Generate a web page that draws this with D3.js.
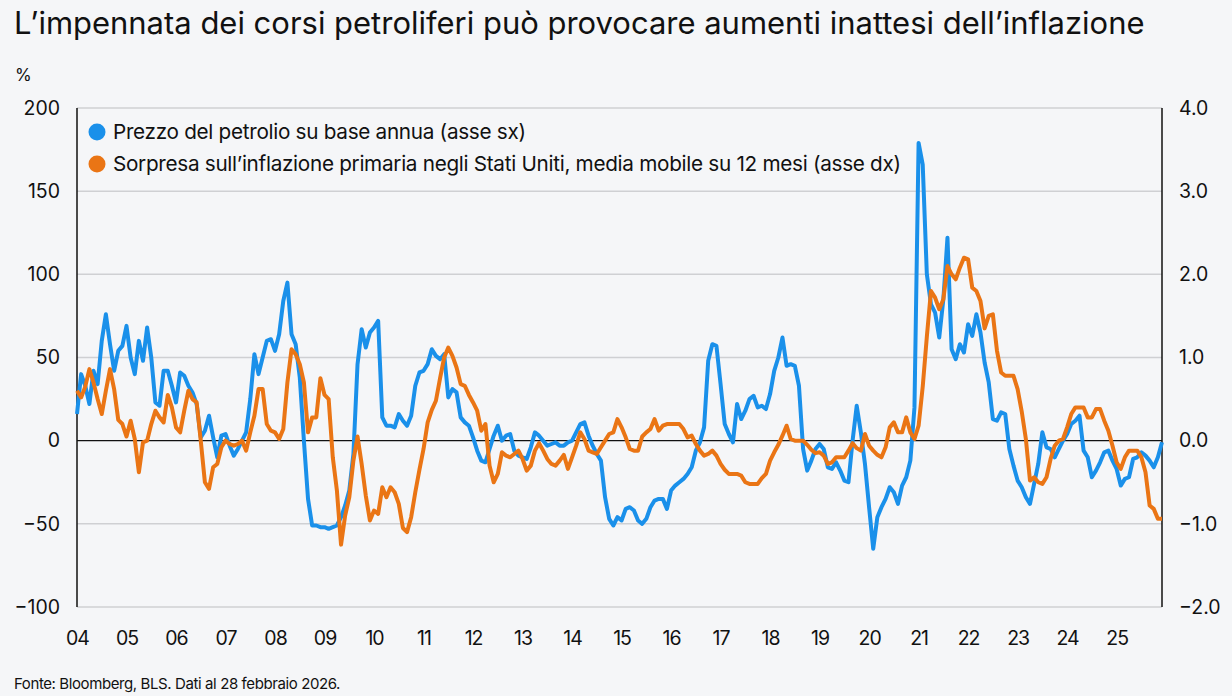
<!DOCTYPE html>
<html>
<head>
<meta charset="utf-8">
<script src="https://cdn.jsdelivr.net/npm/d3@7"></script>
<style>
  html, body { margin: 0; padding: 0; background: #f5f6f8; }
  svg { display: block; }
  text { font-family: Inter, "Noto Sans", sans-serif; fill: #111; }
</style>
</head>
<body>
<svg id="chart" width="1232" height="696"></svg>
<script>
// ---------- DATA ----------
const title = "L’impennata dei corsi petroliferi può provocare aumenti inattesi dell’inflazione";
const unitLabel = "%";
const source = "Fonte: Bloomberg, BLS. Dati al 28 febbraio 2026.";
const seriesNames = [
  "Prezzo del petrolio su base annua (asse sx)",
  "Sorpresa sull’inflazione primaria negli Stati Uniti, media mobile su 12 mesi (asse dx)"
];
const yearLabels = ["04","05","06","07","08","09","10","11","12","13","14","15","16","17","18","19","20","21","22","23","24","25"];
const leftTicks = [-100, -50, 0, 50, 100, 150, 200];
const rightTicks = [-2, -1, 0, 1, 2, 3, 4];

// Oil price YoY % (left axis), monthly Jan 2004 - Dec 2025
const oil = [
  16, 40, 33, 22, 42, 34, 60, 76, 58, 42, 54, 57,
  69, 50, 40, 60, 48, 68, 50, 23, 21, 42, 42, 33,
  23, 41, 39, 33, 29, 22, 2, 6, 15, 2, -10, 3,
  4, -3, -9, -5, 0, 5, 25, 52, 40, 50, 60, 61,
  54, 64, 84, 95, 64, 58, 38, 0, -35, -51, -51, -52,
  -52, -53, -52, -51, -46, -39, -30, -8, 46, 67, 56, 65,
  68, 72, 14, 9, 9, 8, 16, 12, 9, 15, 33, 41,
  42, 46, 55, 51, 49, 52, 26, 31, 29, 14, 11, 9,
  2, -6, -12, -13, -5, 3, 9, 0, 3, 4, -6, -9,
  -10, -11, -4, 5, 3, 0, -3, -2, -1, -3, -3, -1,
  0, 5, 10, 11, 3, -3, -8, -12, -34, -47, -51, -46,
  -48, -41, -40, -42, -48, -50, -47, -40, -36, -35, -35, -41,
  -30, -27, -25, -23, -20, -16, -6, -1, 8, 48, 58, 57,
  34, 10, 4, -1, 22, 13, 18, 25, 27, 20, 21, 19,
  28, 42, 50, 62, 45, 46, 45, 33, -5, -18, -12, -5,
  -2, -5, -16, -17, -13, -18, -24, -25, 0, 21, 5, -14,
  -40, -65, -46, -40, -35, -28, -31, -38, -27, -22, -12, 20,
  179, 166, 100, 82, 77, 62, 85, 122, 55, 49, 58, 53,
  70, 63, 76, 65, 47, 35, 13, 12, 17, 16, -5, -15,
  -24, -28, -34, -38, -26, -14, 5, -4, -5, -10, -5, 0,
  4, 10, 12, 15, -6, -10, -22, -18, -13, -7, -6, -12,
  -17, -27, -23, -22, -11, -10, -7, -9, -12, -16, -10, -1
];

// US headline inflation surprise, 12m moving average (right axis)
const surprise = [
  0.60, 0.52, 0.65, 0.86, 0.70, 0.50, 0.32, 0.60, 0.86, 0.62, 0.25, 0.20,
  0.05, 0.24, 0.02, -0.38, -0.02, 0.00, 0.20, 0.36, 0.28, 0.22, 0.55, 0.40,
  0.16, 0.10, 0.36, 0.60, 0.50, 0.46, 0.00, -0.50, -0.58, -0.32, -0.28, -0.08,
  0.00, -0.04, -0.06, -0.04, 0.00, -0.12, 0.10, 0.30, 0.62, 0.62, 0.20, 0.12,
  0.10, 0.02, 0.14, 0.70, 1.10, 1.04, 0.92, 0.70, 0.10, 0.28, 0.28, 0.75,
  0.55, 0.50, -0.20, -0.60, -1.25, -0.90, -0.68, -0.24, 0.05, -0.28, -0.66, -0.96,
  -0.84, -0.88, -0.56, -0.68, -0.56, -0.62, -0.76, -1.05, -1.10, -0.92, -0.62, -0.35,
  -0.10, 0.22, 0.37, 0.48, 0.75, 1.00, 1.12, 1.02, 0.88, 0.68, 0.66, 0.55,
  0.46, 0.36, 0.12, 0.20, -0.30, -0.50, -0.40, -0.14, -0.18, -0.20, -0.16, -0.12,
  -0.22, -0.36, -0.30, -0.12, -0.03, -0.12, -0.22, -0.28, -0.30, -0.24, -0.17, -0.34,
  -0.20, -0.06, 0.10, 0.02, -0.12, -0.14, -0.16, -0.08, 0.00, 0.08, 0.10, 0.26,
  0.16, 0.04, -0.10, -0.12, -0.12, 0.05, 0.10, 0.14, 0.26, 0.12, 0.18, 0.20,
  0.20, 0.20, 0.20, 0.14, 0.04, 0.06, -0.04, -0.12, -0.18, -0.16, -0.12, -0.18,
  -0.28, -0.35, -0.40, -0.40, -0.40, -0.42, -0.50, -0.52, -0.52, -0.52, -0.45, -0.40,
  -0.24, -0.14, -0.05, 0.06, 0.18, 0.02, 0.00, 0.00, 0.00, -0.05, -0.11, -0.15,
  -0.14, -0.18, -0.28, -0.26, -0.20, -0.20, -0.20, -0.12, -0.03, -0.09, -0.12, 0.08,
  -0.06, -0.12, -0.17, -0.20, -0.08, 0.16, 0.22, 0.10, 0.10, 0.28, 0.10, 0.02,
  0.18, 0.65, 1.25, 1.80, 1.72, 1.58, 1.70, 2.10, 2.00, 1.94, 2.08, 2.20,
  2.18, 1.84, 1.80, 1.68, 1.35, 1.50, 1.52, 1.08, 0.82, 0.78, 0.78, 0.78,
  0.62, 0.35, 0.02, -0.48, -0.44, -0.50, -0.52, -0.44, -0.22, -0.06, 0.00, 0.02,
  0.16, 0.32, 0.40, 0.40, 0.40, 0.28, 0.28, 0.38, 0.38, 0.24, 0.12, -0.06,
  -0.26, -0.34, -0.20, -0.12, -0.12, -0.12, -0.20, -0.38, -0.78, -0.82, -0.94, -0.94
];

// ---------- CHART ----------
const svg = d3.select("#chart");
const W = 1232, H = 696;
const m = { left: 77, right: 1162, top: 108, bottom: 607 };
const colors = { oil: "#1a90ea", surprise: "#ea7515" };

svg.append("rect").attr("width", W).attr("height", H).attr("fill", "#f5f6f8");

const x = d3.scaleLinear().domain([0, oil.length - 1]).range([m.left, m.right]);
const yL = d3.scaleLinear().domain([-100, 200]).range([m.bottom, m.top]);
const yR = d3.scaleLinear().domain([-2, 4]).range([m.bottom, m.top]);

// Title (fit to width)
const t = svg.append("text").attr("x", 14).attr("y", 34)
  .attr("font-size", 27).attr("fill", "#0a0a0a").text(title);
const tw = t.node().getComputedTextLength();
t.attr("font-size", 27 * 1131 / tw);

svg.append("text").attr("x", 15).attr("y", 81).attr("font-size", 17).text(unitLabel);

// gridlines
const gridG = svg.append("g");
gridG.selectAll("line").data(leftTicks.filter(d => d !== 0)).join("line")
  .attr("x1", m.left).attr("x2", m.right)
  .attr("y1", d => yL(d)).attr("y2", d => yL(d))
  .attr("stroke", "#cfd0d3").attr("stroke-width", 1.5);

// left axis
const leftAxis = d3.axisLeft(yL).tickValues(leftTicks).tickSize(0).tickPadding(17).tickFormat(d3.format("d"));
const gl = svg.append("g").attr("transform", `translate(${m.left},0)`).call(leftAxis);
gl.select(".domain").remove();
gl.selectAll("text").attr("font-size", 19.5).attr("fill", "#0a0a0a").attr("font-family", "Inter, sans-serif");

// right axis
const rightAxis = d3.axisRight(yR).tickValues(rightTicks).tickSize(0).tickPadding(17).tickFormat(d3.format(".1f"));
const gr = svg.append("g").attr("transform", `translate(${m.right},0)`).call(rightAxis);
gr.select(".domain").remove();
gr.selectAll("text").attr("font-size", 19.5).attr("fill", "#0a0a0a").attr("font-family", "Inter, sans-serif");

// bottom axis labels
const xAxis = d3.axisBottom(x).tickValues(yearLabels.map((d, i) => i * 12)).tickSize(0).tickPadding(24)
  .tickFormat((d, i) => yearLabels[i]);
const gx = svg.append("g").attr("transform", `translate(0,${m.bottom})`).call(xAxis);
gx.select(".domain").remove();
gx.selectAll("text").attr("font-size", 19.5).attr("fill", "#0a0a0a").attr("font-family", "Inter, sans-serif")
  .attr("letter-spacing", -1);

// vertical frame lines
svg.append("line").attr("x1", m.left).attr("x2", m.left).attr("y1", m.top).attr("y2", m.bottom)
  .attr("stroke", "#111").attr("stroke-width", 1.5);
svg.append("line").attr("x1", m.right).attr("x2", m.right).attr("y1", m.top).attr("y2", m.bottom)
  .attr("stroke", "#111").attr("stroke-width", 1.5);

// zero line
svg.append("line").attr("x1", m.left).attr("x2", m.right).attr("y1", yL(0)).attr("y2", yL(0))
  .attr("stroke", "#111").attr("stroke-width", 1.2);

// lines
const lineOil = d3.line().x((d, i) => x(i)).y(d => yL(d)).curve(d3.curveLinear);
const lineSur = d3.line().x((d, i) => x(i)).y(d => yR(d)).curve(d3.curveLinear);

svg.append("path").datum(oil).attr("d", lineOil).attr("fill", "none")
  .attr("stroke", colors.oil).attr("stroke-width", 4).attr("stroke-linejoin", "round");
svg.append("path").datum(surprise).attr("d", lineSur).attr("fill", "none")
  .attr("stroke", colors.surprise).attr("stroke-width", 4).attr("stroke-linejoin", "round");

// legend
const legend = svg.append("g");
const legItems = [
  { name: seriesNames[0], color: colors.oil, y: 132 },
  { name: seriesNames[1], color: colors.surprise, y: 164 }
];
legItems.forEach(li => {
  legend.append("circle").attr("cx", 97).attr("cy", li.y).attr("r", 8.5).attr("fill", li.color);
  legend.append("text").attr("x", 113).attr("y", li.y).attr("dy", "0.35em")
    .attr("font-size", 18).attr("fill", "#0a0a0a").attr("letter-spacing", -0.3).text(li.name);
});
// fit legend second line width
const lt = legend.selectAll("text").nodes();
const lw = lt[1].getComputedTextLength();
const sc = 784 / lw;
legend.selectAll("text").attr("font-size", 18 * sc);

// source (fit to width)
const s = svg.append("text").attr("x", 14).attr("y", 689).attr("font-size", 13.5).attr("fill", "#444")
  .attr("letter-spacing", -0.4).text(source);
const sw = s.node().getComputedTextLength();
s.attr("font-size", 13.5 * 324 / sw);
</script>
</body>
</html>
